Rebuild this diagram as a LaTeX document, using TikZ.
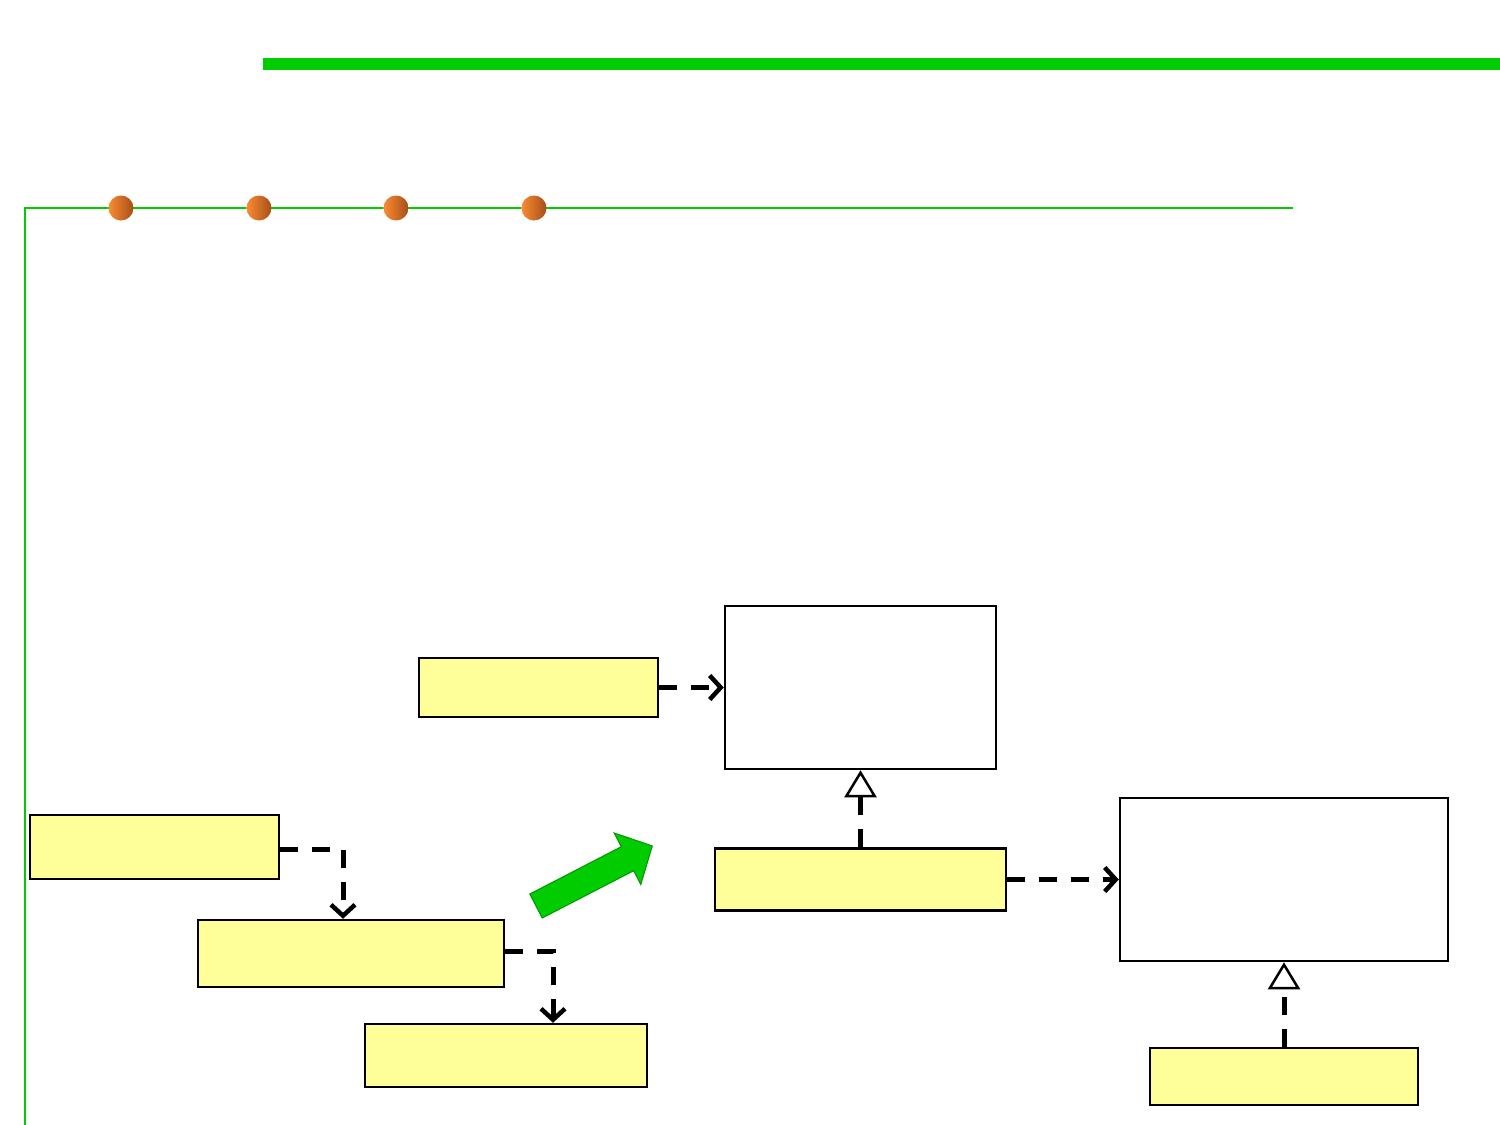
\documentclass[tikz,border=0pt]{standalone}
\usetikzlibrary{arrows.meta}
\definecolor{brightgreen}{RGB}{0,204,0}
\definecolor{darkgreen}{RGB}{0,150,0}
\definecolor{paleyellow}{RGB}{255,255,153}
\definecolor{orangeL}{RGB}{250,140,50}
\definecolor{orangeR}{RGB}{165,78,25}
\tikzset{
  ybox/.style={draw=black, line width=2.5pt, fill=paleyellow, inner sep=0pt},
  wbox/.style={draw=black, line width=2.5pt, fill=white, inner sep=0pt},
  depend/.style={line width=5pt, dash pattern=on 18pt off 14pt, -{Straight Barb[length=11pt,width=24pt,line width=4.5pt]}},
  realize/.style={line width=5pt, dash pattern=on 18pt off 14pt, -{Triangle[open,fill=white,length=27pt,width=32pt,line width=2.5pt]}},
  dot/.style={circle, inner sep=0pt, minimum size=25pt, left color=orangeL, right color=orangeR, draw=none},
}
\begin{document}
\begin{tikzpicture}[x=1pt,y=-1pt]
\useasboundingbox (0,0) rectangle (1500,1125);
% top bar
\fill[brightgreen] (263,58) rectangle (1500,70);
% thin frame lines
\coordinate (lt) at (25,208);
\coordinate (rt) at (1293,208);
\coordinate (lb) at (25,1125);
\draw[brightgreen, line width=2.5pt] (rt) -- (lt) -- (lb);
% dots
\node[dot] (d1) at (121,208) {};
\node[dot] (d2) at (259,208) {};
\node[dot] (d3) at (396,208) {};
\node[dot] (d4) at (534,208) {};
% boxes
\node[wbox, minimum width=271pt, minimum height=163pt] (A) at (860.5,687.5) {};
\node[ybox, minimum width=239pt, minimum height=59pt] (B) at (538.5,687.5) {};
\node[ybox, minimum width=291pt, minimum height=62pt] (C) at (860.5,879.5) {};
\node[wbox, minimum width=328pt, minimum height=163pt] (D) at (1284,879.5) {};
\node[ybox, minimum width=268pt, minimum height=57pt] (E) at (1284,1076.5) {};
\node[ybox, minimum width=249pt, minimum height=64pt] (F) at (154.5,847) {};
\node[ybox, minimum width=306pt, minimum height=67pt] (G) at (351,953.5) {};
\node[ybox, minimum width=282pt, minimum height=63pt] (H) at (506,1055.5) {};
% connectors
\draw[depend] (B.east) -- (A.west);
\draw[depend] (C.east) -- (D.west);
\draw[realize] (C.north) -- (A.south);
\draw[realize] (E.north) -- (D.south);
\draw[depend] ([yshift=-2pt]F.east) -| ([xshift=-8pt]G.north);
\draw[depend] ([yshift=2.5pt]G.east) -| ([xshift=47pt]H.north);
% green block arrow
\filldraw[fill=brightgreen, draw=darkgreen, line width=1pt]
  (529.8,894.0) -- (621.3,846.7) -- (614.2,833.0) -- (652.3,845.9)
  -- (640.8,884.5) -- (633.7,870.7) -- (542.2,918.0) -- cycle;
\end{tikzpicture}
\end{document}
